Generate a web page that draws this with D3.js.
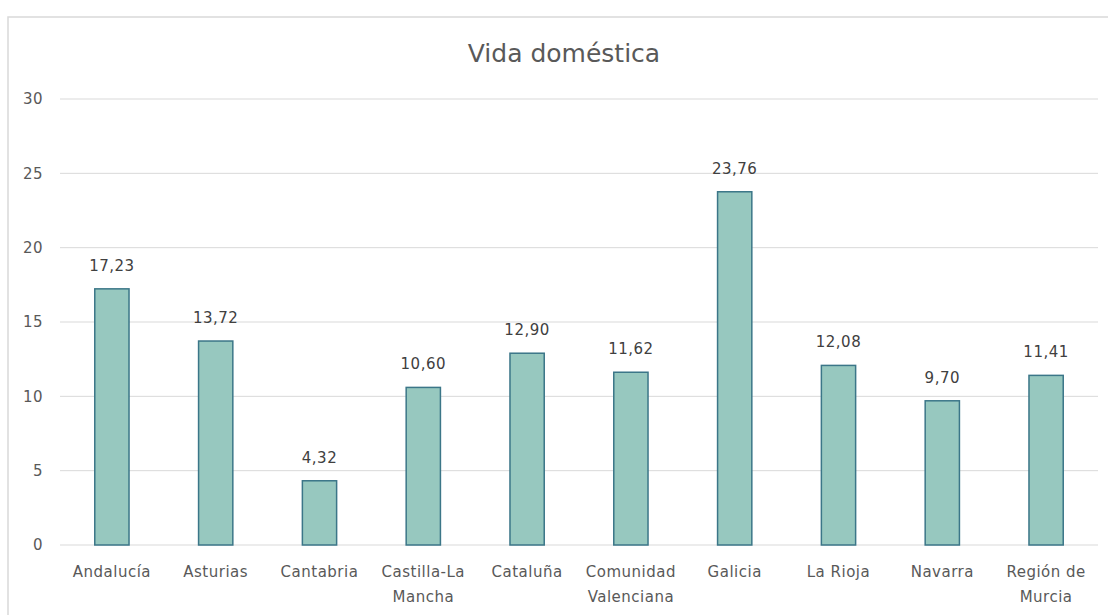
<!DOCTYPE html>
<html>
  <head>
    <meta charset="utf-8">
    <title>Vida doméstica</title>
    <script src="https://d3js.org/d3.v7.min.js"></script>
    <style>
      body { margin: 0; background: #ffffff; }
      text { font-family: "DejaVu Sans", sans-serif; }
    </style>
  </head>
  <body>
    <svg width="1108" height="615"></svg>
    <script>
      // datos del gráfico
      var categories = ["Andalucía", "Asturias", "Cantabria", "Castilla-La Mancha", "Cataluña",
                        "Comunidad Valenciana", "Galicia", "La Rioja", "Navarra", "Región de Murcia"];
      var values = [17.23, 13.72, 4.32, 10.60, 12.90, 11.62, 23.76, 12.08, 9.70, 11.41];
      var yTicks = [0, 5, 10, 15, 20, 25, 30];
      // etiquetas partidas en dos líneas como en el original
      var labelLines = [["Andalucía"], ["Asturias"], ["Cantabria"], ["Castilla-La", "Mancha"], ["Cataluña"],
                        ["Comunidad", "Valenciana"], ["Galicia"], ["La Rioja"], ["Navarra"], ["Región de", "Murcia"]];

      var margin = { top: 99, right: 10, bottom: 70, left: 60 },
          width = 1108 - margin.left - margin.right,
          height = 615 - margin.top - margin.bottom;

      var root = d3.select("svg");

      // marco del gráfico
      root.append("rect")
          .attr("x", 8).attr("y", 17)
          .attr("width", 1108).attr("height", 620)
          .attr("fill", "#ffffff")
          .attr("stroke", "#d9d9d9")
          .attr("stroke-width", 1.5);

      root.append("text")
          .attr("x", 564)
          .attr("y", 62)
          .attr("text-anchor", "middle")
          .attr("fill", "#595959")
          .style("font-size", "25px")
          .text("Vida doméstica");

      var svg = root.append("g")
          .attr("transform", "translate(" + margin.left + "," + margin.top + ")");

      var xScale = d3.scaleBand()
          .range([0, width])
          .paddingInner(0.67)
          .paddingOuter(0.335)
          .domain(categories);

      var yScale = d3.scaleLinear()
          .range([446, 0])
          .domain([0, 30]);

      // líneas horizontales
      svg.append("g")
          .selectAll("line")
          .data(yTicks)
          .enter()
          .append("line")
          .attr("x1", 0)
          .attr("x2", width)
          .attr("y1", function(d) { return yScale(d); })
          .attr("y2", function(d) { return yScale(d); })
          .attr("stroke", "#d9d9d9")
          .attr("stroke-width", 1);

      var yAxis = d3.axisLeft(yScale)
          .tickValues(yTicks)
          .tickSize(0)
          .tickPadding(17);

      svg.append("g")
          .call(yAxis)
          .call(function(g) { g.select(".domain").remove(); })
          .selectAll("text")
          .attr("fill", "#595959")
          .style("font-size", "15px")
          .style("letter-spacing", "0.5px")
          .style("font-family", "DejaVu Sans, sans-serif");

      var data = categories.map(function(c, i) { return { name: c, value: values[i], lines: labelLines[i] }; });

      svg.selectAll(".bar")
          .data(data)
          .enter()
          .append("rect")
          .attr("class", "bar")
          .attr("x", function(d) { return xScale(d.name); })
          .attr("y", function(d) { return yScale(d.value); })
          .attr("width", xScale.bandwidth())
          .attr("height", function(d) { return yScale(0) - yScale(d.value); })
          .attr("fill", "#97c8bf")
          .attr("stroke", "#3b7688")
          .attr("stroke-width", 1.5);

      svg.selectAll(".value-label")
          .data(data)
          .enter()
          .append("text")
          .attr("class", "value-label")
          .attr("x", function(d) { return xScale(d.name) + xScale.bandwidth() / 2; })
          .attr("y", function(d) { return yScale(d.value) - 18; })
          .attr("text-anchor", "middle")
          .attr("fill", "#404040")
          .style("font-size", "15px")
          .style("letter-spacing", "0.5px")
          .text(function(d) { return d.value.toFixed(2).replace(".", ","); });

      var catLabels = svg.selectAll(".cat-label")
          .data(data)
          .enter()
          .append("text")
          .attr("class", "cat-label")
          .attr("x", function(d) { return xScale(d.name) + xScale.bandwidth() / 2; })
          .attr("y", yScale(0) + 32)
          .attr("text-anchor", "middle")
          .attr("fill", "#595959")
          .style("font-size", "15px")
          .style("letter-spacing", "0.5px");

      catLabels.selectAll("tspan")
          .data(function(d) { return d.lines; })
          .enter()
          .append("tspan")
          .attr("x", function() { var p = d3.select(this.parentNode).datum(); return xScale(p.name) + xScale.bandwidth() / 2; })
          .attr("dy", function(d, i) { return i === 0 ? 0 : 25; })
          .text(function(d) { return d; });
    </script>
  </body>
</html>
